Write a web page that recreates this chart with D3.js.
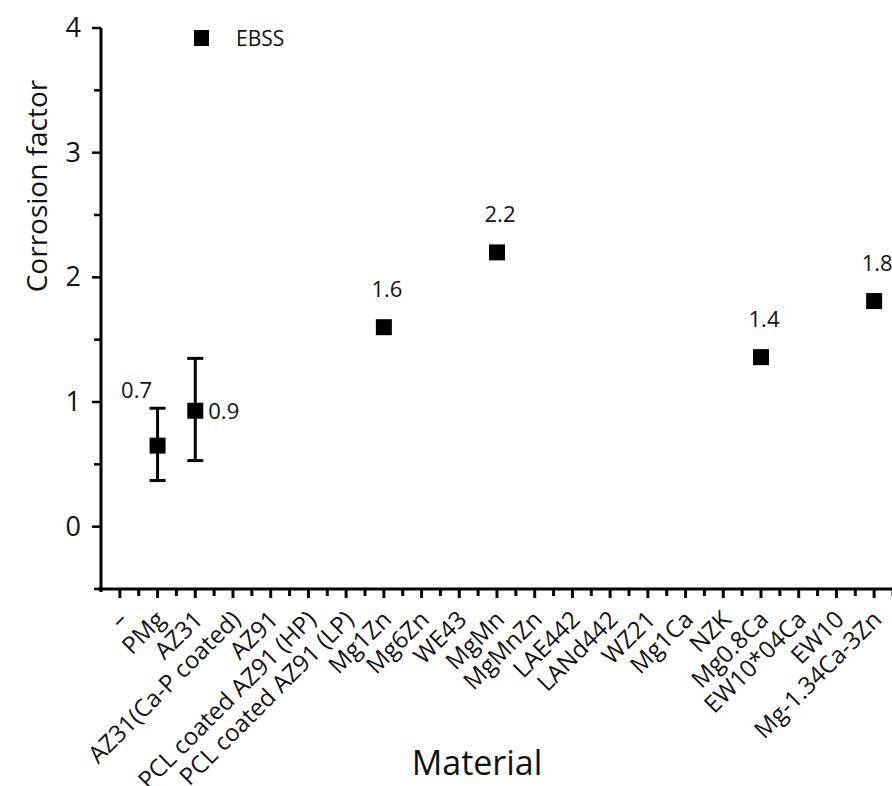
<!DOCTYPE html>
<html>
<head>
<meta charset="utf-8">
<script src="https://cdn.jsdelivr.net/npm/d3@7"></script>
<style>
  body { margin: 0; background: #fff; }
  text { font-family: "Open Sans", sans-serif; fill: #111; }
</style>
</head>
<body>
<svg width="892" height="786"></svg>
<script>
// materials along the x axis
const categories = ["\u2013", "PMg", "AZ31", "AZ31(Ca-P coated)", "AZ91", "PCL coated AZ91 (HP)",
    "PCL coated AZ91 (LP)", "Mg1Zn", "Mg6Zn", "WE43", "MgMn", "MgMnZn", "LAE442", "LANd442",
    "WZ21", "Mg1Ca", "NZK", "Mg0.8Ca", "EW10*04Ca", "EW10", "Mg-1.34Ca-3Zn"];

// EBSS points (material, value, error low, error high, label)
const pointMaterials = ["PMg", "AZ31", "Mg1Zn", "MgMn", "Mg0.8Ca", "Mg-1.34Ca-3Zn"];
const pointValues = [0.65, 0.93, 1.60, 2.20, 1.36, 1.81];
const errLow = [0.37, 0.53, null, null, null, null];
const errHigh = [0.95, 1.35, null, null, null, null];
const pointLabels = ["0.7", "0.9", "1.6", "2.2", "1.4", "1.8"];

const yTicks = [0, 1, 2, 3, 4];
const seriesName = "EBSS";

const width = 892, height = 786;
const svg = d3.select("svg");

const x = d3.scaleLinear().domain([-0.5, categories.length - 0.5]).range([101, 893]);
const y = d3.scaleLinear().domain([-0.5, 4]).range([589, 28]);

const points = pointMaterials.map((m, i) => ({
    i: categories.indexOf(m),
    value: pointValues[i],
    lo: errLow[i],
    hi: errHigh[i],
    label: pointLabels[i]
}));

// y axis
const yAxis = svg.append("g").attr("transform", "translate(101,0)");
yAxis.append("line")
    .attr("y1", y(4)).attr("y2", y(-0.5) + 3)
    .attr("stroke", "#000").attr("stroke-width", 3);
yAxis.selectAll(".minor")
    .data(d3.range(-0.5, 4.01, 0.5).filter(v => v % 1 !== 0))
    .enter().append("line")
    .attr("x1", -7).attr("x2", 0)
    .attr("y1", d => y(d)).attr("y2", d => y(d))
    .attr("stroke", "#000").attr("stroke-width", 2.5);
yAxis.selectAll(".major")
    .data(yTicks)
    .enter().append("line")
    .attr("x1", -9).attr("x2", 0)
    .attr("y1", d => y(d)).attr("y2", d => y(d))
    .attr("stroke", "#000").attr("stroke-width", 2.5);
yAxis.selectAll("text")
    .data(yTicks)
    .enter().append("text")
    .attr("x", -20)
    .attr("y", d => y(d) + 9)
    .attr("text-anchor", "end")
    .style("font-size", "27px")
    .text(d => d);

// x axis
const xAxis = svg.append("g").attr("transform", `translate(0,${y(-0.5)})`);
xAxis.append("line")
    .attr("x1", 98).attr("x2", width)
    .attr("stroke", "#000").attr("stroke-width", 3);
xAxis.selectAll(".minor")
    .data(d3.range(0.5, categories.length, 1))
    .enter().append("line")
    .attr("x1", d => x(d)).attr("x2", d => x(d))
    .attr("y1", 0).attr("y2", 7)
    .attr("stroke", "#000").attr("stroke-width", 3);
xAxis.selectAll(".major")
    .data(categories)
    .enter().append("line")
    .attr("x1", (d, i) => x(i)).attr("x2", (d, i) => x(i))
    .attr("y1", 0).attr("y2", 9)
    .attr("stroke", "#000").attr("stroke-width", 3);
xAxis.selectAll("text")
    .data(categories)
    .enter().append("text")
    .attr("text-anchor", "end")
    .attr("transform", (d, i) => `translate(${x(i) + 9},${32}) rotate(-45)`)
    .style("font-size", "24px")
    .text(d => d);

// error bars
const bars = svg.append("g").selectAll("g")
    .data(points.filter(d => d.lo !== null))
    .enter().append("g");
bars.append("line")
    .attr("x1", d => x(d.i)).attr("x2", d => x(d.i))
    .attr("y1", d => y(d.lo)).attr("y2", d => y(d.hi))
    .attr("stroke", "#000").attr("stroke-width", 3);
bars.append("line")
    .attr("x1", d => x(d.i) - 8).attr("x2", d => x(d.i) + 8)
    .attr("y1", d => y(d.lo)).attr("y2", d => y(d.lo))
    .attr("stroke", "#000").attr("stroke-width", 3);
bars.append("line")
    .attr("x1", d => x(d.i) - 8).attr("x2", d => x(d.i) + 8)
    .attr("y1", d => y(d.hi)).attr("y2", d => y(d.hi))
    .attr("stroke", "#000").attr("stroke-width", 3);

// markers
svg.append("g").selectAll("rect")
    .data(points)
    .enter().append("rect")
    .attr("x", d => x(d.i) - 8)
    .attr("y", d => y(d.value) - 8)
    .attr("width", 16).attr("height", 16)
    .attr("fill", "#000");

// value labels
svg.append("g").selectAll("text")
    .data(points)
    .enter().append("text")
    .attr("x", d => d.label === "0.7" ? x(d.i) - 21 : d.label === "0.9" ? x(d.i) + 13 : x(d.i) + 3)
    .attr("y", d => d.label === "0.7" ? y(d.value) - 48 : d.label === "0.9" ? y(d.value) + 8 : y(d.value) - 30)
    .attr("text-anchor", d => d.label === "0.9" ? "start" : "middle")
    .style("font-size", "22px")
    .text(d => d.label);

// legend
const legend = svg.append("g").attr("transform", "translate(202,38)");
legend.append("rect")
    .attr("x", -8).attr("y", -8).attr("width", 15).attr("height", 16)
    .attr("fill", "#000");
legend.append("text")
    .attr("x", 34).attr("y", 8)
    .style("font-size", "21px")
    .text(seriesName);

// axis titles
svg.append("text")
    .attr("transform", "translate(47,186) rotate(-90)")
    .attr("text-anchor", "middle")
    .style("font-size", "28px")
    .text("Corrosion factor");

svg.append("text")
    .attr("x", 477).attr("y", 775)
    .attr("text-anchor", "middle")
    .style("font-size", "34px")
    .text("Material");
</script>
</body>
</html>
